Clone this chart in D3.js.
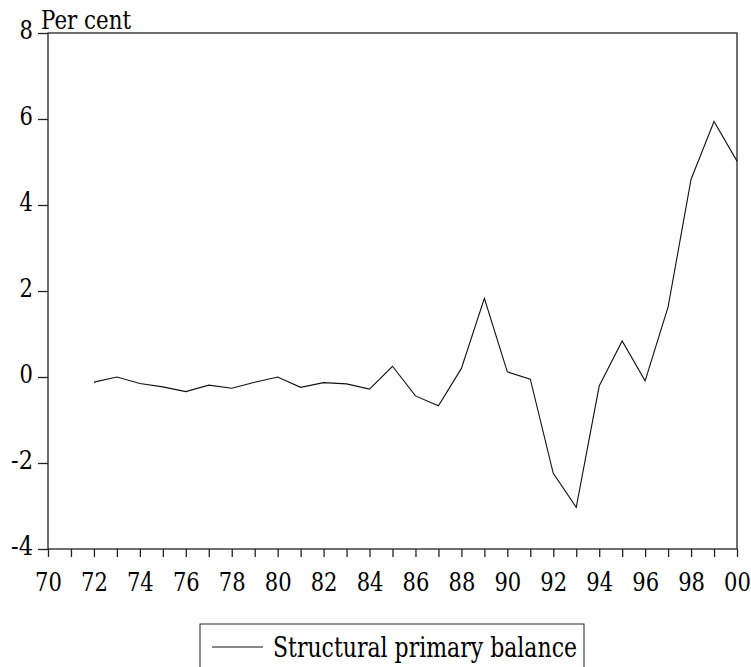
<!DOCTYPE html>
<html>
<head>
<meta charset="utf-8">
<script src="https://cdn.jsdelivr.net/npm/d3@7"></script>
<style>
body { margin: 0; background: #fff; }
svg text { font-family: 'DejaVu Serif', serif; fill: #000; }
</style>
</head>
<body>
<svg id="chart" width="751" height="667"></svg>
<script>
// data
var years = [1972,1973,1974,1975,1976,1977,1978,1979,1980,1981,1982,1983,1984,1985,1986,1987,1988,1989,1990,1991,1992,1993,1994,1995,1996,1997,1998,1999,2000];
var balance = [-0.12,0.0,-0.15,-0.23,-0.34,-0.19,-0.26,-0.12,0.0,-0.24,-0.13,-0.16,-0.28,0.25,-0.44,-0.67,0.2,1.83,0.12,-0.05,-2.24,-3.03,-0.21,0.84,-0.09,1.63,4.6,5.94,5.02];
var yTicks = [-4,-2,0,2,4,6,8];
var xLabelYears = [1970,1972,1974,1976,1978,1980,1982,1984,1986,1988,1990,1992,1994,1996,1998,2000];
var seriesName = "Structural primary balance";
var unitLabel = "Per cent";

var plotL = 48, plotR = 737, plotT = 33, plotB = 549;
var fs = 26;
var digitW = 13.4;   // narrower, Times-like digits

var svg = d3.select("#chart");
var x = d3.scaleLinear().domain([1970, 2000]).range([plotL, plotR]);
var y = d3.scaleLinear().domain([-4, 8]).range([plotB, plotT]);

// frame
svg.append("rect").attr("x", plotL).attr("y", plotT).attr("width", plotR - plotL).attr("height", plotB - plotT)
	.style("fill", "none").style("stroke", "#222").style("stroke-width", 1.3);

// y axis
var yAxis = d3.axisLeft(y).tickValues(yTicks).tickSize(10).tickFormat(function(d) { return String(d); });
var gy = svg.append("g").attr("transform", "translate(" + plotL + ",0)").call(yAxis);
gy.attr("font-family", null);
gy.select(".domain").remove();
gy.selectAll("line").style("stroke", "#222").style("stroke-width", 1.3);
gy.selectAll("text").style("font-size", fs + "px").attr("x", -15).attr("dy", 5)
	.attr("textLength", function(d) { return d < 0 ? 22 : digitW; })
	.attr("lengthAdjust", "spacingAndGlyphs");

// x axis: a tick every year, label every 2
var xAxis = d3.axisBottom(x).tickValues(d3.range(1970, 2001)).tickSize(8).tickFormat(function(d) {
	return xLabelYears.indexOf(d) >= 0 ? String(d).slice(2) : "";
});
var gx = svg.append("g").attr("transform", "translate(0," + plotB + ")").call(xAxis);
gx.attr("font-family", null);
gx.select(".domain").remove();
gx.selectAll("line").style("stroke", "#222").style("stroke-width", 1.3);
gx.selectAll("text").filter(function(d) { return xLabelYears.indexOf(d) >= 0; })
	.style("font-size", fs + "px").attr("y", 42).attr("dy", 0)
	.attr("textLength", 2 * digitW).attr("lengthAdjust", "spacingAndGlyphs");

// unit label
svg.append("text").attr("x", 41).attr("y", 29).style("font-size", fs + "px")
	.attr("textLength", 90).attr("lengthAdjust", "spacingAndGlyphs").text(unitLabel);

// series
var line = d3.line().x(function(d, i) { return x(years[i]); }).y(function(d) { return y(d); });
svg.append("path").datum(balance).attr("d", line)
	.style("fill", "none").style("stroke", "#111").style("stroke-width", 1.1);

// legend
svg.append("rect").attr("x", 200).attr("y", 624).attr("width", 384).attr("height", 60)
	.style("fill", "none").style("stroke", "#222").style("stroke-width", 1);
svg.append("line").attr("x1", 212).attr("x2", 263).attr("y1", 647).attr("y2", 647)
	.style("stroke", "#111").style("stroke-width", 1.1);
svg.append("text").attr("x", 273).attr("y", 657).style("font-size", "27px")
	.attr("textLength", 304).attr("lengthAdjust", "spacingAndGlyphs").text(seriesName);
</script>
</body>
</html>
